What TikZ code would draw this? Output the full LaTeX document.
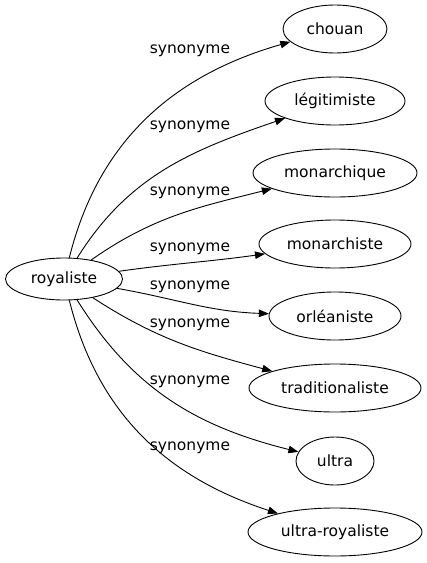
\documentclass[tikz,border=0pt]{standalone}
\usepackage{fontspec}
\setmainfont{DejaVu Sans}
\usetikzlibrary{arrows.meta,shapes.geometric}
\tikzset{
	wbox/.style={
		draw,
		ellipse,
		inner sep=0pt,
		line width=0.9pt,
		minimum height=48pt,
		font=\fontsize{15.5}{18}\selectfont
	},
	warr/.style={-{Triangle[length=10pt,width=7.5pt]}, line width=0.9pt},
	wlab/.style={font=\fontsize{15.5}{18}\selectfont}
}
\begin{document}
\begin{tikzpicture}[x=1pt, y=-1pt]
		\useasboundingbox (0,0) rectangle (427,563);
		\node[wbox, minimum width=117pt, minimum height=42pt] (roy) at (64,279) {royaliste};
		\node[wbox, minimum width=104pt] (chouan) at (335,29) {chouan};
		\node[wbox, minimum width=140pt] (legit) at (335,101) {légitimiste};
		\node[wbox, minimum width=164pt] (monarchique) at (335,173) {monarchique};
		\node[wbox, minimum width=152pt] (monarchiste) at (335,244) {monarchiste};
		\node[wbox, minimum width=132pt] (orleans) at (335,316) {orléaniste};
		\node[wbox, minimum width=172pt] (trad) at (335,388) {traditionaliste};
		\node[wbox, minimum width=78pt] (ultra) at (335,461) {ultra};
		\node[wbox, minimum width=174pt] (ultraroy) at (335,532) {ultra-royaliste};
		\draw[warr] (roy) to[out=76, in=196] (chouan);
		\draw[warr] (roy) to[out=58, in=199] (legit);
		\draw[warr] (roy) to[out=35, in=194] (monarchique);
		\draw[warr] (roy) to[out=8, in=188] (monarchiste);
		\draw[warr] (roy) to[out=-10, in=178] (orleans);
		\draw[warr] (roy) to[out=-33, in=165] (trad);
		\draw[warr] (roy) to[out=-58, in=166] (ultra);
		\draw[warr] (roy) to[out=-76, in=162] (ultraroy);
		\node[wlab] (l1) at (190,51) {synonyme};
		\node[wlab] (l2) at (190,127) {synonyme};
		\node[wlab] (l3) at (190,193) {synonyme};
		\node[wlab] (l4) at (190,249) {synonyme};
		\node[wlab] (l5) at (190,287) {synonyme};
		\node[wlab] (l6) at (190,325) {synonyme};
		\node[wlab] (l7) at (190,382) {synonyme};
		\node[wlab] (l8) at (190,448) {synonyme};
	\end{tikzpicture}
\end{document}
